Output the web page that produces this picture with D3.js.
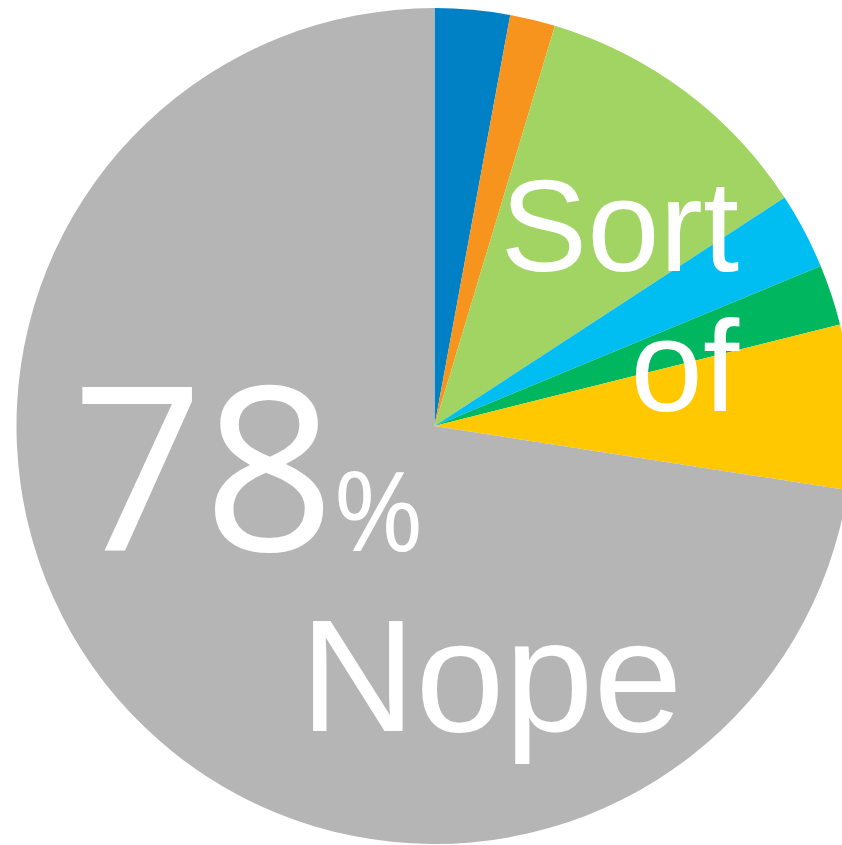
<!DOCTYPE html>
<html><head><meta charset="utf-8">
<script src="https://cdn.jsdelivr.net/npm/d3@7"></script>
<style>html,body{margin:0;padding:0;background:#fff;overflow:hidden}</style>
</head><body>
<svg id="c" width="842" height="845"></svg>
<script>
const categories = ["A","B","C","D","E","F","Nope"];
const values = [2.9, 1.75, 11.15, 2.95, 2.35, 6.35, 72.55];
const colors = ["#0081C6","#F7941D","#A2D463","#00BDF2","#00B760","#FFC800","#B5B5B5"];

const svg = d3.select("#c");
const cx = 434.5, cy = 426, r = 418;
const g = svg.append("g").attr("transform", `translate(${cx},${cy})`);
const pie = d3.pie().sort(null).value(d => d.v);
const arc = d3.arc().innerRadius(0).outerRadius(r);
const data = categories.map((c,i)=>({c, v: values[i], col: colors[i]}));
g.selectAll("path").data(pie(data)).enter().append("path")
  .attr("d", arc).attr("fill", d => d.data.col);

const sans = "'Liberation Sans', Arial, sans-serif";
svg.append("text").attr("x", 739).attr("y", 271).attr("text-anchor","end")
  .attr("font-family", sans).attr("font-size", 130).attr("fill","#fff").text("Sort");
svg.append("text").attr("x", 739).attr("y", 411).attr("text-anchor","end")
  .attr("font-family", sans).attr("font-size", 130).attr("fill","#fff").text("of");
svg.append("text").attr("x", 300).attr("y", 731).attr("font-family", sans)
  .attr("font-size", 160).attr("fill","#fff").text("Nope");
const t = svg.append("text").attr("x", 72).attr("y", 551)
  .attr("font-family","'Open Sans', sans-serif").attr("font-weight",400).attr("fill","#fff");
t.append("tspan").attr("font-size", 230).text("78");
t.append("tspan").attr("font-size", 110).attr("dx", -2).text("%");
</script>
</body></html>
